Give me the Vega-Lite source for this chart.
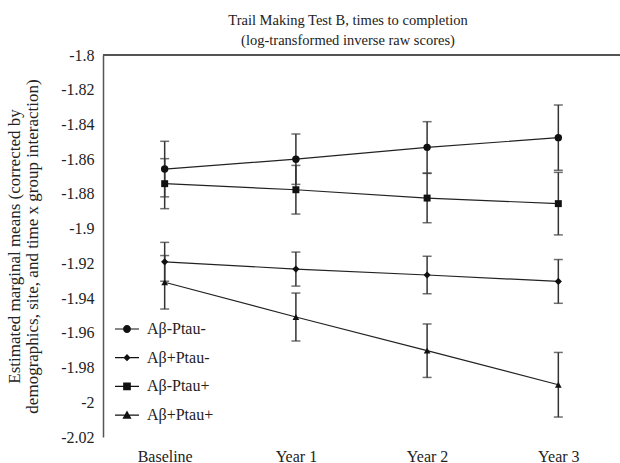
{
  "$schema": "https://vega.github.io/schema/vega-lite/v6.json",
  "autosize": {"type": "none"},
  "padding": {"left": 103, "top": 55, "right": 0, "bottom": 26},
  "width": 517,
  "height": 382,
  "background": "white",
  "config": {
    "view": {"stroke": null},
    "font": "Liberation Serif",
    "axis": {"labelFont": "Liberation Serif", "titleFont": "Liberation Serif", "labelColor": "#222", "titleColor": "#222", "titleFontWeight": "normal"},
    "legend": {"labelFont": "Liberation Serif", "labelFontSize": 16, "labelColor": "#222", "padding": 0}
  },
  "title": {
    "text": ["Trail Making Test B, times to completion", "(log-transformed inverse raw scores)"],
    "font": "Liberation Serif",
    "fontSize": 14.5,
    "fontWeight": "normal",
    "color": "#222",
    "anchor": "middle",
    "frame": "group",
    "dx": -13.5,
    "offset": -1,
    "lineHeight": 19.5
  },
  "data": {
    "values": [
      {"group": "Aβ-Ptau-", "time": "Baseline", "mean": -1.8657, "err": 0.016},
      {"group": "Aβ-Ptau-", "time": "Year 1", "mean": -1.8600, "err": 0.0145},
      {"group": "Aβ-Ptau-", "time": "Year 2", "mean": -1.8532, "err": 0.0148},
      {"group": "Aβ-Ptau-", "time": "Year 3", "mean": -1.8476, "err": 0.0188},
      {"group": "Aβ+Ptau-", "time": "Baseline", "mean": -1.9191, "err": 0.0112},
      {"group": "Aβ+Ptau-", "time": "Year 1", "mean": -1.9233, "err": 0.0098},
      {"group": "Aβ+Ptau-", "time": "Year 2", "mean": -1.9267, "err": 0.0108},
      {"group": "Aβ+Ptau-", "time": "Year 3", "mean": -1.9304, "err": 0.0126},
      {"group": "Aβ-Ptau+", "time": "Baseline", "mean": -1.8741, "err": 0.0144},
      {"group": "Aβ-Ptau+", "time": "Year 1", "mean": -1.8776, "err": 0.014},
      {"group": "Aβ-Ptau+", "time": "Year 2", "mean": -1.8824, "err": 0.0142},
      {"group": "Aβ-Ptau+", "time": "Year 3", "mean": -1.8856, "err": 0.018},
      {"group": "Aβ+Ptau+", "time": "Baseline", "mean": -1.9309, "err": 0.0154},
      {"group": "Aβ+Ptau+", "time": "Year 1", "mean": -1.9509, "err": 0.0138},
      {"group": "Aβ+Ptau+", "time": "Year 2", "mean": -1.9703, "err": 0.0154},
      {"group": "Aβ+Ptau+", "time": "Year 3", "mean": -1.9899, "err": 0.0186}
    ]
  },
  "encoding": {
    "x": {
      "field": "time",
      "type": "ordinal",
      "sort": ["Baseline", "Year 1", "Year 2", "Year 3"],
      "scale": {"type": "point", "padding": 0.47},
      "axis": {"title": null, "domain": false, "ticks": false, "labelAngle": 0, "labelFontSize": 16, "labelPadding": 11}
    },
    "y": {
      "field": "mean",
      "type": "quantitative",
      "scale": {"domain": [-2.02, -1.8], "nice": false, "zero": false},
      "axis": {
        "values": [-2.02, -2, -1.98, -1.96, -1.94, -1.92, -1.9, -1.88, -1.86, -1.84, -1.82, -1.8],
        "labelExpr": "replace(format(datum.value, '.2~f'), '\u2212', '-')",
        "grid": false,
        "ticks": false,
        "domainColor": "#555",
        "domainWidth": 1.5,
        "labelFontSize": 16,
        "labelPadding": 9,
        "title": ["Estimated marginal means (corrected by", "demographics, site, and time x group interaction)"],
        "titleFontSize": 17,
        "titleLineHeight": 18,
        "titlePadding": 19
      }
    }
  },
  "layer": [
    {
      "mark": {"type": "rule", "color": "#555", "strokeWidth": 1.5},
      "encoding": {"y": {"datum": -1.8}, "x": null}
    },
    {
      "mark": {"type": "line", "color": "#222", "strokeWidth": 1.2},
      "encoding": {"detail": {"field": "group"}}
    },
    {
      "mark": {"type": "errorbar", "ticks": {"size": 9, "thickness": 1.5, "color": "#333"}, "rule": {"strokeWidth": 1.5, "color": "#333"}},
      "encoding": {"yError": {"field": "err"}, "detail": {"field": "group"}}
    },
    {
      "mark": {"type": "point", "filled": true, "color": "#111", "opacity": 1},
      "encoding": {
        "shape": {
          "field": "group",
          "scale": {"domain": ["Aβ-Ptau-", "Aβ+Ptau-", "Aβ-Ptau+", "Aβ+Ptau+"], "range": ["circle", "diamond", "square", "triangle-up"]},
          "legend": null
        },
        "size": {
          "field": "group",
          "type": "nominal",
          "scale": {"domain": ["Aβ-Ptau-", "Aβ+Ptau-", "Aβ-Ptau+", "Aβ+Ptau+"], "range": [55, 45, 60, 55]},
          "legend": null
        }
      }
    },
    {
      "mark": {"type": "point", "filled": true, "color": "#111", "opacity": 0},
      "encoding": {
        "shape": {
          "field": "group",
          "scale": {
            "domain": ["Aβ-Ptau-", "Aβ+Ptau-", "Aβ-Ptau+", "Aβ+Ptau+"],
            "range": [
              "M-1,-0.05H1V0.05H-1ZM0.33,0A0.33,0.33,0,1,1,-0.33,0A0.33,0.33,0,1,1,0.33,0Z",
              "M-1,-0.05H1V0.05H-1ZM0,-0.3L0.3,0L0,0.3L-0.3,0Z",
              "M-1,-0.05H1V0.05H-1ZM-0.32,-0.32H0.32V0.32H-0.32Z",
              "M-1,-0.05H1V0.05H-1ZM0,-0.38L0.38,0.3H-0.38Z"
            ]
          },
          "legend": {
            "title": null,
            "orient": "none",
            "legendX": 12,
            "legendY": 262,
            "symbolSize": 576,
            "symbolStrokeWidth": 0,
            "symbolFillColor": "#111",
            "labelOffset": 8,
            "rowPadding": 8.7,
            "encode": {
              "symbols": {"update": {"opacity": {"value": 1}, "fillOpacity": {"value": 1}, "fill": {"value": "#111"}, "size": {"value": 576}}}
            }
          }
        }
      }
    }
  ],
  "resolve": {"scale": {"shape": "independent", "size": "independent"}}
}
